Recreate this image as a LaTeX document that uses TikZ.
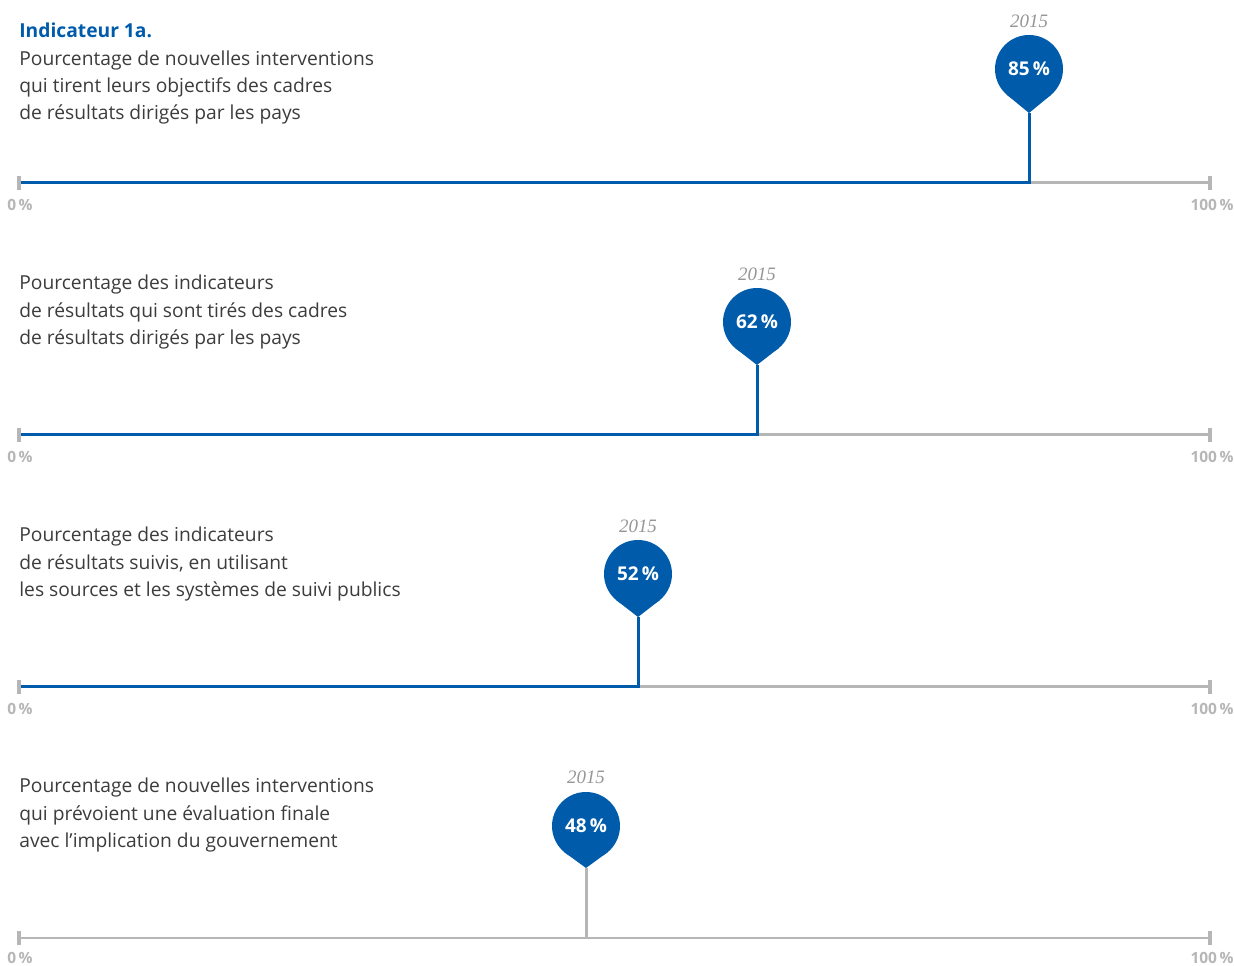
\documentclass[tikz,border=0pt]{standalone}
\usepackage{fontspec}
\setmainfont{Open Sans}
\newfontfamily\yearfont{Liberation Serif}
\usetikzlibrary{calc}
\definecolor{pinblue}{RGB}{0,91,170}
\definecolor{axisgray}{RGB}{182,182,182}
\definecolor{yeargray}{RGB}{150,150,150}
\definecolor{textgray}{RGB}{60,60,60}
\newcommand\pct[1]{#1\,\%}

\begin{document}
\begin{tikzpicture}[x=0.02cm,y=0.02cm,
  axisline/.style={axisgray,line width=1.7pt},
  valline/.style={pinblue,line width=1.7pt},
  endtick/.style={axisgray,line width=1.9pt},
  pinhead/.style={circle,fill=pinblue,text=white,minimum size=1.36cm,inner sep=0pt,outer sep=0pt,font=\fontsize{10.8}{12}\selectfont\bfseries},
  yearlabel/.style={text=yeargray,font=\fontsize{10.8}{12}\selectfont\yearfont\itshape},
  pctlabel/.style={text=axisgray,font=\fontsize{8.8}{10}\selectfont\bfseries,inner sep=0pt},
  bodytext/.style={text=textgray,font=\fontsize{10.95}{15.4}\selectfont,align=left,anchor=north west,inner sep=0pt}]

\useasboundingbox (0,0) rectangle (1234,966);

% Indicateur 1a, 85 %
\coordinate (A1) at (19,783);
\coordinate (B1) at (1210,783);
\coordinate (V1) at (1029,783);
\coordinate (T1) at (1029,853);

\node[bodytext] (txt1) at (19,943) {{\color{pinblue}\bfseries Indicateur 1a.}\\Pourcentage de nouvelles interventions\\qui tirent leurs objectifs des cadres\\de résultats dirigés par les pays};
\draw[axisline] (V1) -- (B1);
\draw[valline] (A1) -- (V1) -- (T1);
\draw[endtick] (A1)++(0,-7) -- ++(0,14);
\draw[endtick] (B1)++(0,-7) -- ++(0,14);
\node[pinhead] (pin1) at (1029,897) {\pct{85}};
\fill[pinblue] (T1) -- (pin1.-50.6) -- (pin1.230.6) -- cycle;
\node[yearlabel] (yr1) at (1029,945) {2015};
\node[pctlabel] (lo1) at (20,761) {\pct{0}};
\node[pctlabel] (hi1) at (1212,761) {\pct{100}};

% 62 %
\coordinate (A2) at (19,531);
\coordinate (B2) at (1210,531);
\coordinate (V2) at (757,531);
\coordinate (T2) at (757,601);

\node[bodytext] (txt2) at (19,691) {Pourcentage des indicateurs\\de résultats qui sont tirés des cadres\\de résultats dirigés par les pays};
\draw[axisline] (V2) -- (B2);
\draw[valline] (A2) -- (V2) -- (T2);
\draw[endtick] (A2)++(0,-7) -- ++(0,14);
\draw[endtick] (B2)++(0,-7) -- ++(0,14);
\node[pinhead] (pin2) at (757,644) {\pct{62}};
\fill[pinblue] (T2) -- (pin2.-50.6) -- (pin2.230.6) -- cycle;
\node[yearlabel] (yr2) at (757,692) {2015};
\node[pctlabel] (lo2) at (20,509) {\pct{0}};
\node[pctlabel] (hi2) at (1212,509) {\pct{100}};

% 52 %
\coordinate (A3) at (19,279);
\coordinate (B3) at (1210,279);
\coordinate (V3) at (638,279);
\coordinate (T3) at (638,349);

\node[bodytext] (txt3) at (19,439) {Pourcentage des indicateurs\\de résultats suivis, en utilisant\\les sources et les systèmes de suivi publics};
\draw[axisline] (V3) -- (B3);
\draw[valline] (A3) -- (V3) -- (T3);
\draw[endtick] (A3)++(0,-7) -- ++(0,14);
\draw[endtick] (B3)++(0,-7) -- ++(0,14);
\node[pinhead] (pin3) at (638,392) {\pct{52}};
\fill[pinblue] (T3) -- (pin3.-50.6) -- (pin3.230.6) -- cycle;
\node[yearlabel] (yr3) at (638,440) {2015};
\node[pctlabel] (lo3) at (20,257) {\pct{0}};
\node[pctlabel] (hi3) at (1212,257) {\pct{100}};

% 48 %, all grey
\coordinate (A4) at (19,28);
\coordinate (B4) at (1210,28);
\coordinate (V4) at (586,28);
\coordinate (T4) at (586,98);

\node[bodytext] (txt4) at (19,188) {Pourcentage de nouvelles interventions\\qui prévoient une évaluation finale\\avec l’implication du gouvernement};
\draw[axisline] (A4) -- (B4);
\draw[axisline] (V4) -- (T4);
\draw[endtick] (A4)++(0,-7) -- ++(0,14);
\draw[endtick] (B4)++(0,-7) -- ++(0,14);
\node[pinhead] (pin4) at (586,140) {\pct{48}};
\fill[pinblue] (T4) -- (pin4.-50.6) -- (pin4.230.6) -- cycle;
\node[yearlabel] (yr4) at (586,189) {2015};
\node[pctlabel] (lo4) at (20,8) {\pct{0}};
\node[pctlabel] (hi4) at (1212,8) {\pct{100}};

\end{tikzpicture}
\end{document}
